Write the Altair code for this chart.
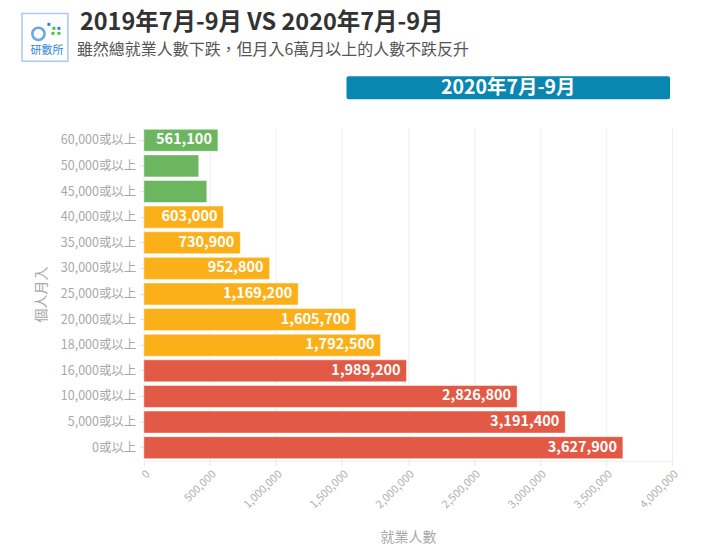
import altair as alt
import pandas as pd

categories = ["60,000或以上", "50,000或以上", "45,000或以上", "40,000或以上", "35,000或以上",
              "30,000或以上", "25,000或以上", "20,000或以上", "18,000或以上", "16,000或以上",
              "10,000或以上", "5,000或以上", "0或以上"]
values = [561100, 416000, 477000, 603000, 730900, 952800, 1169200, 1605700, 1792500,
          1989200, 2826800, 3191400, 3627900]
groups = ["高", "高", "高", "中", "中", "中", "中", "中", "中", "低", "低", "低", "低"]
shown = [True, False, False, True, True, True, True, True, True, True, True, True, True]
x_ticks = [0, 500000, 1000000, 1500000, 2000000, 2500000, 3000000, 3500000, 4000000]
title_text = "2019年7月-9月 VS 2020年7月-9月"
subtitle_text = "雖然總就業人數下跌，但月入6萬月以上的人數不跌反升"
banner_label = "2020年7月-9月"

df = pd.DataFrame({"cat": categories, "val": values, "grp": groups, "shown": shown})
df["label"] = [f"{v:,}" if s else "" for v, s in zip(values, shown)]

FONT = "Noto Sans CJK TC"

y_enc = alt.Y("cat:N", sort=categories, title="個人月入",
              scale=alt.Scale(paddingInner=0.14, paddingOuter=0.08),
              axis=alt.Axis(labelColor="#a8a8a8", labelFontSize=12.5, labelFont=FONT,
                            domain=False, ticks=True, tickSize=4, tickColor="#dddddd",
                            labelPadding=4, titleColor="#a8a8a8", titleFont=FONT,
                            titleFontSize=14, titleFontWeight="normal", titlePadding=12,
                            titleAngle=270))
x_enc = alt.X("val:Q", title="就業人數",
              scale=alt.Scale(domain=[0, 4000000], nice=False),
              axis=alt.Axis(values=x_ticks, format=",d", labelAngle=-45, labelColor="#b0b0b0",
                            labelFontSize=11, labelFont=FONT, grid=True, gridColor="#efefef",
                            domainColor="#eeeeee", tickColor="#e6e6e6", tickSize=5,
                            titleColor="#a8a8a8", titleFont=FONT, titleFontSize=14,
                            titleFontWeight="normal", titlePadding=21))

bars = alt.Chart(df).mark_bar(stroke="#ffffff", strokeWidth=1, strokeOpacity=0.5).encode(
    x=x_enc, y=y_enc,
    color=alt.Color("grp:N", legend=None,
                    scale=alt.Scale(domain=["高", "中", "低"],
                                    range=["#6bb65f", "#fbb019", "#e25a45"])),
)

labels = alt.Chart(df).mark_text(align="right", baseline="middle", dx=-6, color="white",
                                 fontWeight="bold", fontSize=14.5, font=FONT).encode(
    x=x_enc, y=y_enc, text="label:N")

one = pd.DataFrame({"t": [banner_label]})

banner = alt.Chart(one).mark_rect(color="#0a87b0", cornerRadius=2).encode(
    x=alt.value(203), x2=alt.value(527), y=alt.value(-51), y2=alt.value(-28))
banner_text = alt.Chart(one).mark_text(
    color="white", fontSize=19.5, fontWeight="bold", font=FONT, align="center",
    baseline="middle").encode(x=alt.value(365), y=alt.value(-39.5), text="t:N")

title_mark = alt.Chart(pd.DataFrame({"t": [title_text]})).mark_text(
    color="#333333", fontSize=23.5, fontWeight="bold", font=FONT, align="left",
    baseline="middle").encode(x=alt.value(-64), y=alt.value(-104), text="t:N")
subtitle_mark = alt.Chart(pd.DataFrame({"t": [subtitle_text]})).mark_text(
    color="#555555", fontSize=16, font=FONT, align="left",
    baseline="middle").encode(x=alt.value(-67), y=alt.value(-77), text="t:N")

logo_box = alt.Chart(one).mark_rect(
    fill="white", stroke="#a9c9f2", strokeWidth=1.5).encode(
    x=alt.value(-122), x2=alt.value(-76), y=alt.value(-114), y2=alt.value(-66))
logo_o = alt.Chart(one).mark_point(
    shape="circle", size=150, stroke="#2f80e0", strokeWidth=2.6, filled=False).encode(
    x=alt.value(-105.5), y=alt.value(-93.5))
logo_dots = alt.Chart(pd.DataFrame({"px": [-95, -90, -85, -91, -85],
                                    "py": [-103, -99, -99, -94, -94],
                                    "c": ["#2f80e0", "#3fc64a", "#2f80e0", "#3fc64a", "#3fc64a"]})).mark_square(
    size=9, filled=True, opacity=1).encode(
    x=alt.X("px:Q", scale=None), y=alt.Y("py:Q", scale=None), color=alt.Color("c:N", scale=None))
logo_text = alt.Chart(pd.DataFrame({"t": ["研數所"]})).mark_text(
    color="#2f80e0", fontSize=11, font=FONT, align="center", baseline="middle").encode(
    x=alt.value(-97), y=alt.value(-76), text="t:N")

chart = alt.layer(bars, labels, banner, banner_text, title_mark, subtitle_mark,
                  logo_box, logo_o, logo_dots, logo_text).properties(
    width=529, height=334,
    autosize=alt.AutoSizeParams(type="none"),
    padding={"left": 136, "top": 119, "right": 40, "bottom": 94},
).configure_view(stroke=None)

chart.save("out.html", embed_options={"renderer": "svg", "actions": False})
